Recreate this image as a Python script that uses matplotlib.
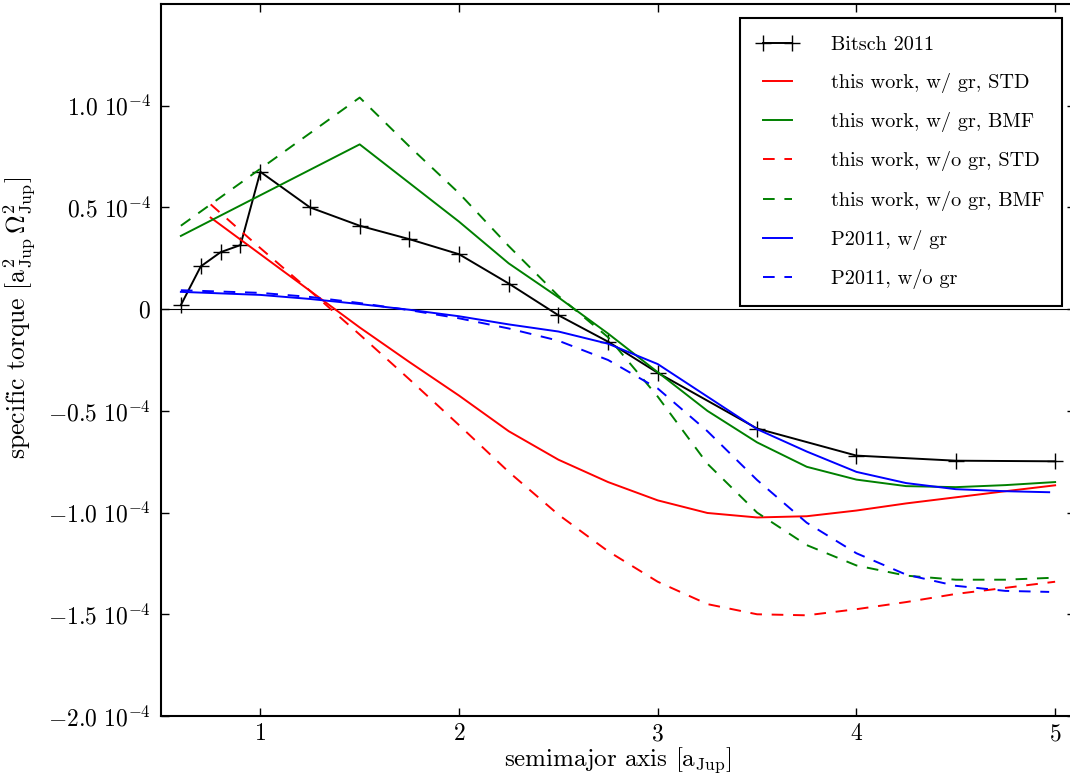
import matplotlib
matplotlib.use('Agg')
import matplotlib.pyplot as plt
import numpy as np

plt.rcParams['font.family'] = ['cmr10', 'DejaVu Serif']
plt.rcParams['mathtext.fontset'] = 'cm'
plt.rcParams['axes.unicode_minus'] = False
plt.rcParams['axes.formatter.use_mathtext'] = True

# data (torque in units of 1e-4)
bitsch_x = [0.6, 0.7, 0.8, 0.9, 1.0, 1.25, 1.5, 1.75, 2.0, 2.25, 2.5, 2.75, 3.0, 3.5, 4.0, 4.5, 5.0]
bitsch_y = [0.02, 0.21, 0.28, 0.315, 0.675, 0.50, 0.41, 0.344, 0.27, 0.126, -0.03, -0.16, -0.313, -0.587, -0.72, -0.745, -0.748]

std_x = [0.75, 1.0, 1.25, 1.5, 1.75, 2.0, 2.25, 2.5, 2.75, 3.0, 3.25, 3.5, 3.75, 4.0, 4.25, 4.5, 4.75, 5.0]
std_gr_y = [0.45, 0.27, 0.09, -0.09, -0.26, -0.425, -0.60, -0.74, -0.85, -0.94, -1.002, -1.024, -1.018, -0.99, -0.955, -0.925, -0.895, -0.866]
std_nogr_y = [0.515, 0.30, 0.09, -0.125, -0.345, -0.57, -0.80, -1.01, -1.19, -1.34, -1.45, -1.50, -1.505, -1.475, -1.44, -1.40, -1.37, -1.34]

bmf_x = [0.6, 1.0, 1.5, 1.75, 2.0, 2.25, 2.5, 2.75, 3.0, 3.25, 3.5, 3.75, 4.0, 4.25, 4.5, 4.75, 5.0]
bmf_gr_y = [0.36, 0.56, 0.81, 0.62, 0.43, 0.225, 0.058, -0.12, -0.31, -0.50, -0.655, -0.775, -0.838, -0.87, -0.875, -0.865, -0.85]
bmf_nogr_y = [0.41, 0.69, 1.04, 0.80, 0.57, 0.31, 0.065, -0.138, -0.43, -0.76, -1.0, -1.16, -1.26, -1.31, -1.33, -1.33, -1.32]

p_x = [0.6, 1.0, 1.25, 1.5, 1.75, 2.0, 2.25, 2.5, 2.75, 3.0, 3.25, 3.5, 3.75, 4.0, 4.25, 4.5, 4.75, 4.97]
p_gr_y = [0.085, 0.07, 0.05, 0.025, -0.003, -0.035, -0.075, -0.11, -0.17, -0.27, -0.43, -0.59, -0.70, -0.80, -0.855, -0.885, -0.895, -0.90]
p_nogr_y = [0.093, 0.08, 0.06, 0.03, -0.005, -0.045, -0.095, -0.155, -0.25, -0.39, -0.60, -0.84, -1.05, -1.20, -1.305, -1.36, -1.385, -1.39]

yticks = [-2.0, -1.5, -1.0, -0.5, 0.0, 0.5, 1.0]
ytick_labels = [r'$-2.0\ 10^{-4}$', r'$-1.5\ 10^{-4}$', r'$-1.0\ 10^{-4}$', r'$-0.5\ 10^{-4}$',
                r'$0$', r'$0.5\ 10^{-4}$', r'$1.0\ 10^{-4}$']
xticks = [1, 2, 3, 4, 5]

fig = plt.figure(figsize=(10.7, 7.76), dpi=100)
ax = fig.add_axes([161 / 1070, 60 / 776, 914 / 1070, 712 / 776])

lw = 1.4
dash = (6, 5)
ax.axhline(0, color='k', lw=0.8)
ax.plot(bitsch_x, bitsch_y, color='k', lw=lw, marker='+', ms=11, mew=1.0, label='Bitsch 2011')
ax.plot(std_x, std_gr_y, color='red', lw=lw, label='this work, w/ gr, STD')
ax.plot(bmf_x, bmf_gr_y, color='green', lw=lw, label='this work, w/ gr, BMF')
ax.plot(std_x, std_nogr_y, color='red', lw=lw, ls='--', dashes=dash, label='this work, w/o gr, STD')
ax.plot(bmf_x, bmf_nogr_y, color='green', lw=lw, ls='--', dashes=dash, label='this work, w/o gr, BMF')
ax.plot(p_x, p_gr_y, color='blue', lw=lw, label='P2011, w/ gr')
ax.plot(p_x, p_nogr_y, color='blue', lw=lw, ls='--', dashes=dash, label='P2011, w/o gr')

ax.set_xlim(0.5, 5.1)
ax.set_ylim(-2.0, 1.5)
ax.set_xticks(xticks)
ax.set_xticklabels([r'$%d$' % t for t in xticks])
ax.set_yticks(yticks)
ax.set_yticklabels(ytick_labels)
ax.tick_params(direction='in', length=6, width=1, top=True, right=True, labelsize=17)
ax.tick_params(axis='x', pad=5)
ax.tick_params(axis='y', pad=7)
for s in ax.spines.values():
    s.set_linewidth(1.5)

ax.set_xlabel(r'semimajor axis [$\mathrm{a_{Jup}}$]', fontsize=18)
ax.xaxis.set_label_coords(0.5, -0.041)
ax.set_ylabel(r'specific torque [$\mathrm{a^2_{Jup}\,\Omega^2_{Jup}}$]', fontsize=18.5)
ax.yaxis.set_label_coords(-0.136, 0.559)

leg = ax.legend(loc='upper right', bbox_to_anchor=(0.9858, 0.980), borderaxespad=0,
                fontsize=14.6, numpoints=2, handlelength=2.0, handletextpad=1.65,
                labelspacing=0.95, borderpad=0.85, fancybox=False, framealpha=1)
leg.get_frame().set_edgecolor('k')
leg.get_frame().set_linewidth(1.5)

fig.savefig('out.png', dpi=100)
